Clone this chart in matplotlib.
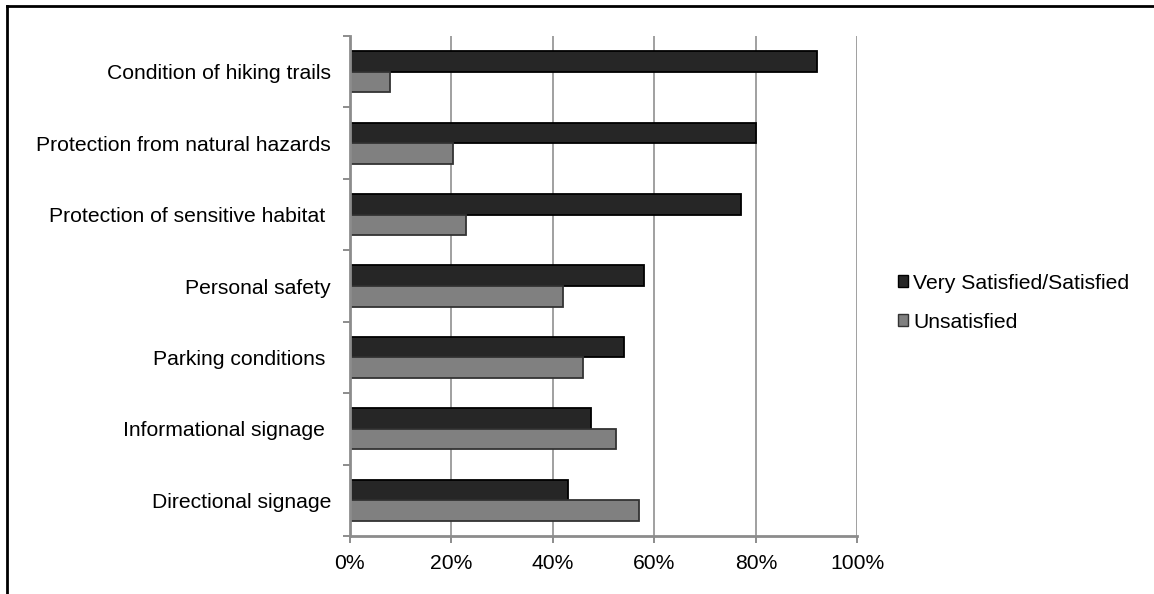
import matplotlib
matplotlib.use("Agg")
import matplotlib.pyplot as plt
from matplotlib.patches import Patch
from matplotlib.ticker import FixedLocator, PercentFormatter
import numpy as np

plt.rcParams['font.family'] = ['Liberation Sans', 'DejaVu Sans']

categories = [
    "Condition of hiking trails",
    "Protection from natural hazards",
    "Protection of sensitive habitat ",
    "Personal safety",
    "Parking conditions ",
    "Informational signage ",
    "Directional signage",
]
satisfied = [92, 80, 77, 58, 54, 47.6, 43]
unsatisfied = [8, 20.4, 23, 42, 46, 52.4, 57]
series_names = ["Very Satisfied/Satisfied", "Unsatisfied"]
x_ticks = [0, 20, 40, 60, 80, 100]

dark = "#262626"
mid = "#808080"
axis_gray = "#8c8c8c"
fs = 15.2

fig = plt.figure(figsize=(11.54, 5.94), dpi=100)
ax = fig.add_axes([0.303, 0.0976, 0.44, 0.8418])

y = np.arange(len(categories))
h = 0.288
ax.barh(y - h / 2, satisfied, height=h, color=dark, edgecolor="black",
        linewidth=1.3, zorder=3)
ax.barh(y + h / 2, unsatisfied, height=h, color=mid, edgecolor="#333333",
        linewidth=1.3, zorder=3)

ax.set_xlim(0, 100)
ax.set_ylim(len(categories) - 0.5, -0.5)

ax.set_xticks(x_ticks)
ax.xaxis.set_major_formatter(PercentFormatter(decimals=0))
ax.grid(axis="x", color="#a0a0a0", linewidth=1.4, zorder=0)

# tick marks sit between categories; labels sit at the category centres
ax.yaxis.set_major_locator(FixedLocator(np.arange(-0.5, len(categories), 1.0)))
ax.set_yticklabels([])
ax.yaxis.set_minor_locator(FixedLocator(y))
ax.set_yticklabels(categories, minor=True)
ax.tick_params(axis="y", which="major", length=5, width=1.4, color=axis_gray,
               direction="out")
ax.tick_params(axis="y", which="minor", length=0, pad=13.5, labelsize=fs)
ax.tick_params(axis="x", length=5, width=1.4, color=axis_gray, pad=8,
               labelsize=fs)

for side in ("top", "right"):
    ax.spines[side].set_visible(False)
for side in ("left", "bottom"):
    ax.spines[side].set_color(axis_gray)
    ax.spines[side].set_linewidth(2)
    ax.spines[side].set_zorder(4)

handles = [Patch(facecolor=dark, edgecolor="black", linewidth=1),
           Patch(facecolor=mid, edgecolor="#333333", linewidth=1)]
fig.legend(handles, series_names, loc="center left",
           bbox_to_anchor=(0.7705, 0.49), frameon=False, fontsize=fs,
           handlelength=0.5, handleheight=0.5, handletextpad=0.25,
           labelspacing=0.95, borderaxespad=0)

# outer frame lines along the top and left edges
fig.add_artist(plt.Line2D([0.0061, 1.0], [0.9899, 0.9899], color="black",
                          linewidth=2, transform=fig.transFigure))
fig.add_artist(plt.Line2D([0.0061, 0.0061], [0.0, 0.9899], color="black",
                          linewidth=2, transform=fig.transFigure))

fig.savefig("out.png", dpi=100, facecolor="white")
